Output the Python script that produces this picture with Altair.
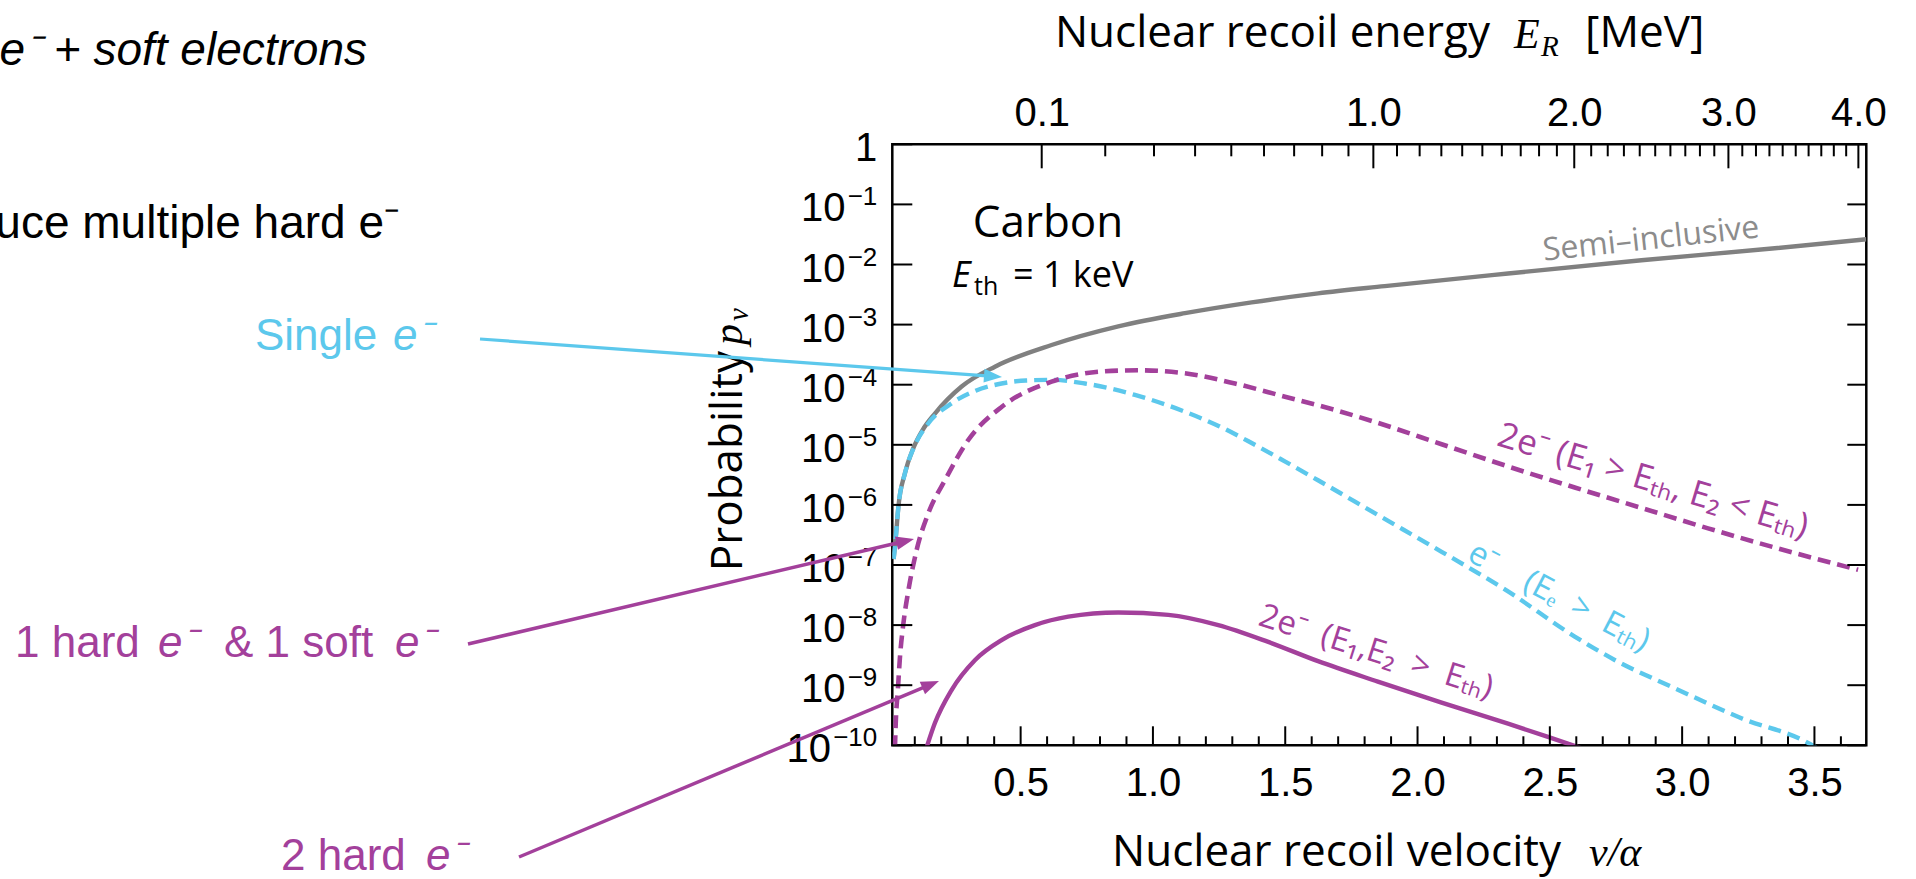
import math
import altair as alt
import pandas as pd

# ---------------- values ----------------
# x: nuclear recoil velocity v/alpha ; y: log10 of probability p_v
semi_v = [0.020, 0.028, 0.038, 0.063, 0.094, 0.130, 0.176, 0.277, 0.403, 0.617, 0.869,
          1.121, 1.373, 1.624, 1.876, 2.342, 2.846, 3.350, 3.696]
semi_logp = [-6.90, -6.55, -6.03, -5.47, -5.06, -4.75, -4.48, -4.03, -3.70, -3.34, -3.03,
             -2.81, -2.63, -2.48, -2.36, -2.15, -1.93, -1.73, -1.58]

single_v = [0.020, 0.028, 0.038, 0.063, 0.101, 0.150, 0.239, 0.330, 0.428, 0.520, 0.617,
            0.743, 0.932, 1.121, 1.250, 1.373, 1.500, 1.624, 1.851, 2.091, 2.342, 2.594,
            2.745, 2.972, 3.224, 3.488, 3.560]
single_logp = [-6.90, -6.55, -6.03, -5.47, -5.00, -4.65, -4.31, -4.10, -3.98, -3.93, -3.92,
               -3.98, -4.17, -4.45, -4.69, -4.97, -5.28, -5.59, -6.17, -6.78, -7.44, -8.19,
               -8.58, -9.05, -9.55, -9.99, -10.20]

hardsoft_v = [0.025, 0.028, 0.036, 0.044, 0.057, 0.076, 0.107, 0.151, 0.214, 0.302, 0.428,
              0.617, 0.806, 0.944, 1.121, 1.310, 1.499, 1.688, 1.839, 2.091, 2.342, 2.594,
              2.846, 3.098, 3.350, 3.665]
hardsoft_logp = [-10.05, -9.63, -9.08, -8.53, -7.97, -7.42, -6.75, -6.14, -5.59, -4.92, -4.37,
                 -3.95, -3.78, -3.76, -3.81, -3.98, -4.20, -4.42, -4.62, -4.99, -5.36, -5.71,
                 -6.05, -6.39, -6.71, -7.08]

twohard_v = [0.140, 0.176, 0.239, 0.328, 0.428, 0.554, 0.680, 0.869, 1.058, 1.247, 1.436,
             1.624, 1.850, 2.091, 2.342, 2.493, 2.620]
twohard_logp = [-10.10, -9.63, -9.08, -8.58, -8.25, -8.00, -7.86, -7.79, -7.83, -8.00, -8.28,
                -8.60, -8.94, -9.29, -9.64, -9.86, -10.05]

# axis ticks
v_major = [0.5, 1.0, 1.5, 2.0, 2.5, 3.0, 3.5]
v_minor = [0.1, 0.2, 0.3, 0.4, 0.6, 0.7, 0.8, 0.9, 1.1, 1.2, 1.3, 1.4, 1.6, 1.7, 1.8, 1.9,
           2.1, 2.2, 2.3, 2.4, 2.6, 2.7, 2.8, 2.9, 3.1, 3.2, 3.3, 3.4, 3.6]
E_major = [0.1, 1.0, 2.0, 3.0, 4.0]
E_minor = [0.2, 0.3, 0.4, 0.5, 0.6, 0.7, 0.8, 0.9,
           1.1, 1.2, 1.3, 1.4, 1.5, 1.6, 1.7, 1.8, 1.9,
           2.1, 2.2, 2.3, 2.4, 2.5, 2.6, 2.7, 2.8, 2.9,
           3.1, 3.2, 3.3, 3.4, 3.5, 3.6, 3.7, 3.8, 3.9]
y_exponents = [0, -1, -2, -3, -4, -5, -6, -7, -8, -9, -10]

# ---------------- layout ----------------
PL, PT = 892.3, 144.3          # plot area origin on the page
W, H = 974, 601
V_DOMAIN = [0.015, 3.696]

# recoil energy of a carbon nucleus, E = M v^2 / 2 with v in units of alpha
M_C = 12 * 931.494   # MeV
ALPHA = 1 / 137.036
def recoil_energy(v):
    return 0.5 * M_C * (v * ALPHA) ** 2
E_DOMAIN = [recoil_energy(V_DOMAIN[0]), recoil_energy(V_DOMAIN[1])]

GRAY = "#808080"
CYAN = "#5cc8ec"
PURPLE = "#a3409b"
SANS = "Liberation Sans"
CMS = "Open Sans"
SERIF = "Liberation Serif"
EN = "\u2002"

V_SCALE = alt.Scale(domain=V_DOMAIN, nice=False, zero=False)
E_SCALE = alt.Scale(type="sqrt", domain=E_DOMAIN, nice=False, zero=False)
Y_ENC = alt.Y("p:Q", scale=alt.Scale(type="log", domain=[1e-10, 1], nice=False), axis=None)
ONE = pd.DataFrame({"_": [0]})


def curve(v, lp, color, dash=None, width=4.0):
    df = pd.DataFrame({"v": v, "logp": lp})
    kw = dict(color=color, strokeWidth=width, clip=True, interpolate="monotone")
    if dash:
        kw["strokeDash"] = dash
    return (alt.Chart(df).transform_calculate(p="pow(10, datum.logp)")
            .mark_line(**kw)
            .encode(x=alt.X("v:Q", scale=V_SCALE, axis=None), y=Y_ENC))


def text(t, x, y, size, color="black", font=SANS, style="normal", align="left",
         baseline="alphabetic", angle=0):
    return alt.Chart(ONE).mark_text(
        text=t, font=font, fontSize=size, fontStyle=style, color=color, align=align,
        baseline=baseline, angle=angle % 360
    ).encode(x=alt.value(x - PL), y=alt.value(y - PT))


def arrow(x0, y0, x1, y1, color, width=3.5, head=1300):
    L = math.hypot(x1 - x0, y1 - y0)
    ang = math.degrees(math.atan2(y1 - y0, x1 - x0))
    ex, ey = x1 - 12 * (x1 - x0) / L, y1 - 12 * (y1 - y0) / L
    line = alt.Chart(ONE).mark_rule(color=color, strokeWidth=width).encode(
        x=alt.value(x0 - PL), y=alt.value(y0 - PT),
        x2=alt.value(ex - PL), y2=alt.value(ey - PT))
    tip = alt.Chart(ONE).mark_point(
        shape="M0,0L-1,-0.38L-1,0.38Z", filled=True, color=color, opacity=1,
        size=head, angle=ang % 360, strokeWidth=0
    ).encode(x=alt.value(x1 - PL), y=alt.value(y1 - PT))
    return [line, tip]


layers = []

# axis titles (drawn first so that tick labels sit on top)
layers += [
    text("Nuclear recoil energy", 1490, 47, 44, font=CMS, align="right"),
    text("E", 1514, 48, 42, font=SERIF, style="italic"),
    text("R", 1541, 56, 29, font=SERIF, style="italic"),
    text("[MeV]", 1585, 47, 44, font=CMS),
    text("Nuclear recoil velocity", 1561, 866, 44, font=CMS, align="right"),
    text("v/α", 1589, 866, 42, font=SERIF, style="italic"),
    text("Probability", 742, 351, 44, font=CMS, align="right", angle=270),
    text("p", 742, 345, 42, font=SERIF, style="italic", angle=270),
    text("v", 748, 321, 29, font=SERIF, style="italic", angle=270),
]

# curves
layers += [
    curve(semi_v, semi_logp, GRAY, width=4.4),
    curve(single_v, single_logp, CYAN, dash=[13, 7], width=4.4),
    curve(hardsoft_v, hardsoft_logp, PURPLE, dash=[13, 7], width=4.6),
    curve(twohard_v, twohard_logp, PURPLE, width=4.4),
]

# bottom axis (v / alpha) with inward ticks
vmin_df = pd.DataFrame({"t": v_minor})
vmaj_df = pd.DataFrame({"t": v_major})
layers.append(alt.Chart(vmin_df).mark_rule(color="black", strokeWidth=2).encode(
    x=alt.X("t:Q", scale=V_SCALE, axis=None), y=alt.value(H), y2=alt.value(H - 9)))
layers.append(alt.Chart(vmaj_df).mark_rule(color="black", strokeWidth=2).encode(
    x=alt.X("t:Q", scale=V_SCALE, axis=alt.Axis(
        orient="bottom", values=v_major, format=".1f", ticks=False, tickSize=0,
        domain=False, grid=False, title=None, labelFont=SANS, labelFontSize=40,
        labelColor="black", labelPadding=18, labelFlush=False, labelOverlap=False)),
    y=alt.value(H), y2=alt.value(H - 19)))

# top axis (recoil energy) with inward ticks
emin_df = pd.DataFrame({"E": E_minor})
emaj_df = pd.DataFrame({"E": E_major})
layers.append(alt.Chart(emin_df).mark_rule(color="black", strokeWidth=2).encode(
    x=alt.X("E:Q", scale=E_SCALE, axis=None), y=alt.value(0), y2=alt.value(12)))
layers.append(alt.Chart(emaj_df).mark_rule(color="black", strokeWidth=2).encode(
    x=alt.X("E:Q", scale=E_SCALE, axis=alt.Axis(
        orient="top", values=E_major, format=".1f", ticks=False, tickSize=0,
        domain=False, grid=False, title=None, labelFont=SANS, labelFontSize=40,
        labelColor="black", labelPadding=11, labelFlush=False, labelOverlap=False)),
    y=alt.value(0), y2=alt.value(24)))

# left / right decade ticks and left labels 10^k
ylab = alt.Chart(pd.DataFrame({"k": y_exponents})).transform_calculate(
    p="pow(10, datum.k)",
    base="datum.k == 0 ? '1' : '10'",
    sup="datum.k == 0 ? '' : '\u2212' + (-datum.k)",
    bx="datum.k == 0 ? -15 : -17 - 15.2 - 14.5 * length(toString(-datum.k))",
)
layers.append(ylab.mark_rule(color="black", strokeWidth=2).encode(
    y=Y_ENC, x=alt.value(0), x2=alt.value(20)))
layers.append(ylab.mark_rule(color="black", strokeWidth=2).encode(
    y=Y_ENC, x=alt.value(W), x2=alt.value(W - 19)))
layers.append(ylab.mark_text(align="right", baseline="alphabetic", font=SANS, fontSize=40,
                             dy=17, color="black").encode(
    x=alt.X("bx:Q", scale=None), y=Y_ENC, text="base:N"))
layers.append(ylab.mark_text(align="right", baseline="alphabetic", font=SANS, fontSize=26,
                             dy=1, color="black").encode(
    x=alt.value(-15), y=Y_ENC, text="sup:N"))

# in-plot annotations
layers += [
    text("Carbon", 1048, 237, 44, font=CMS, align="center"),
    text("E", 952, 287, 36, font=CMS, style="italic"),
    text("th", 974, 295, 25, font=CMS),
    text("= 1 keV", 1013, 287, 36, font=CMS),
    text("Semi\u2013inclusive", 1652, 249, 32, color="#8c8c8c", font=CMS, align="center",
         angle=-6.2),
    text("2e\u207b (E\u2081 > E\u209c\u2095, E\u2082 < E\u209c\u2095)", 1653, 481, 35,
         color=PURPLE, font=CMS, align="center", baseline="middle", angle=16.8),
    text("e\u207b\u2003(E\u2091" + EN + ">" + EN + "E\u209c\u2095)", 1559, 597, 33,
         color=CYAN, font=CMS, align="center", baseline="middle", angle=27.5),
    text("2e\u207b" + EN + "(E\u2081,E\u2082" + EN + ">" + EN + "E\u209c\u2095)", 1376, 652, 33,
         color=PURPLE, font=CMS, align="center", baseline="middle", angle=17.6),
]

# annotations on the left
layers += [
    text("e\u207b + soft electrons", 367, 65, 46, style="italic", align="right"),
    text("uce multiple hard e\u207b", 400, 238, 46, align="right"),
    text("Single", 255, 350, 44, color=CYAN),
    text("e\u207b", 393, 350, 44, color=CYAN, style="italic"),
    text("1 hard", 15, 657, 44, color=PURPLE),
    text("e\u207b", 158, 657, 44, color=PURPLE, style="italic"),
    text("& 1 soft", 224, 657, 44, color=PURPLE),
    text("e\u207b", 395, 657, 44, color=PURPLE, style="italic"),
    text("2 hard", 281, 870, 44, color=PURPLE),
    text("e\u207b", 426, 870, 44, color=PURPLE, style="italic"),
]
layers += arrow(480, 339, 1002, 377, CYAN, width=3.2)
layers += arrow(468, 644, 914, 539, PURPLE, width=3.5)
layers += arrow(519, 857, 939, 681, PURPLE, width=3.5)

chart = (
    alt.layer(*layers)
    .resolve_scale(x="independent")
    .properties(
        width=W, height=H,
        autosize=alt.AutoSizeParams(type="none"),
        padding={"left": PL, "top": PT, "right": 1916 - PL - W, "bottom": 879 - PT - H},
        background="white",
    )
    .configure_view(stroke="black", strokeWidth=2.5)
)

chart.save("out.html", embed_options={"renderer": "svg", "actions": False})
